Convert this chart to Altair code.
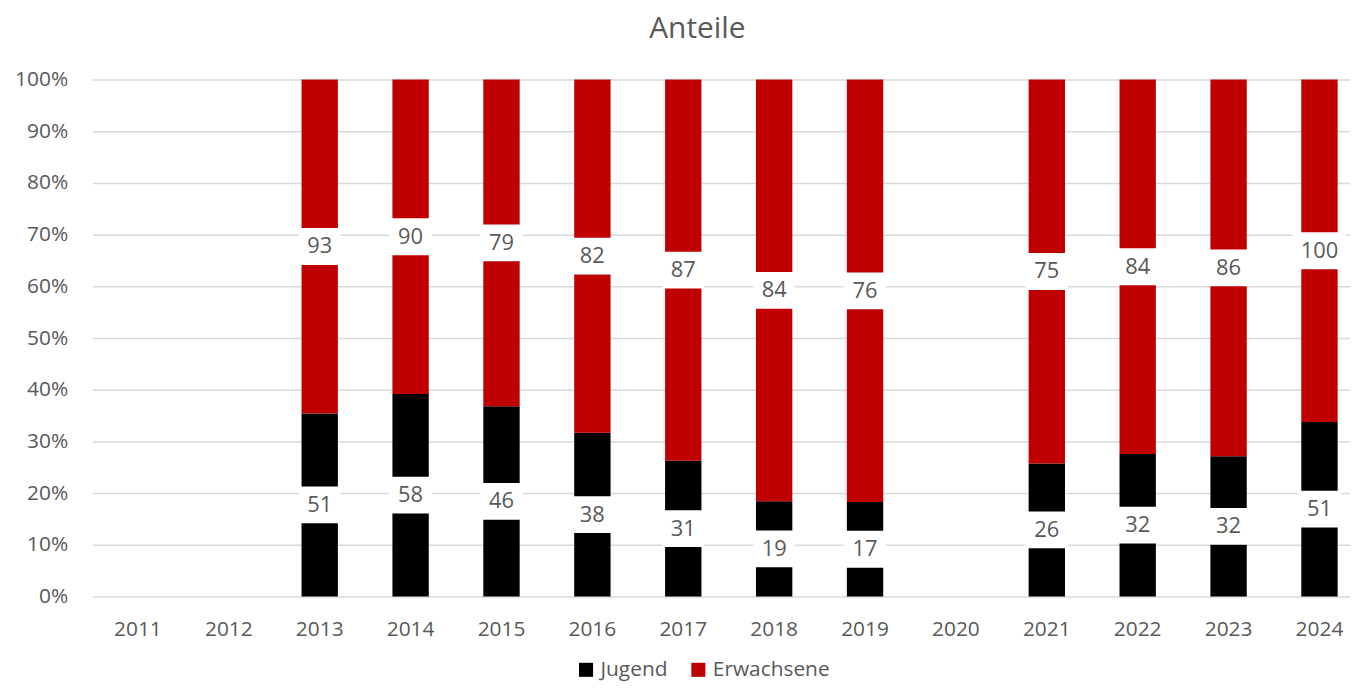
import altair as alt
import pandas as pd

years_all = ["2011", "2012", "2013", "2014", "2015", "2016", "2017",
             "2018", "2019", "2020", "2021", "2022", "2023", "2024"]
years = ["2013", "2014", "2015", "2016", "2017", "2018", "2019",
         "2021", "2022", "2023", "2024"]
jugend = [51, 58, 46, 38, 31, 19, 17, 26, 32, 32, 51]
erwachsene = [93, 90, 79, 82, 87, 84, 76, 75, 84, 86, 100]
groups = ["Jugend", "Erwachsene"]
colors = ["#000000", "#C00000"]

rows = []
for i, y in enumerate(years):
    rows.append({"year": y, "group": "Jugend", "value": jugend[i], "ord": 0})
    rows.append({"year": y, "group": "Erwachsene", "value": erwachsene[i], "ord": 1})
df = pd.DataFrame(rows)

FONT = "Open Sans"
GRAY = "#595959"

x = alt.X("year:N",
          scale=alt.Scale(domain=years_all, paddingInner=0.6, paddingOuter=0.3,
                          range=[0, 1280]),
          axis=alt.Axis(title=None, labelAngle=0, labelFontSize=21, labelColor=GRAY,
                        labelFont=FONT, ticks=False, domain=False, labelPadding=22,
                        grid=False))
yscale = alt.Scale(domain=[0, 1])
yaxis = alt.Axis(title=None, format=".0%",
                 values=[0, 0.1, 0.2, 0.3, 0.4, 0.5, 0.6, 0.7, 0.8, 0.9, 1.0],
                 labelFontSize=21, labelColor=GRAY, labelFont=FONT,
                 ticks=False, domain=False, labelPadding=25,
                 gridColor="#d9d9d9", gridWidth=1.5)

base = alt.Chart(df)

bars = base.mark_bar().encode(
    x=x,
    y=alt.Y("value:Q", stack="normalize", scale=yscale, axis=yaxis),
    color=alt.Color("group:N", scale=alt.Scale(domain=groups, range=colors),
                    legend=alt.Legend(title=None, orient="none", legendX=486, legendY=583,
                                      direction="horizontal", symbolType="square",
                                      symbolSize=200, symbolStrokeWidth=0,
                                      labelFontSize=21, labelFont=FONT, labelColor=GRAY,
                                      columnPadding=20, labelOffset=4)),
    order=alt.Order("ord:Q"),
)

lab = base.transform_stack(
    stack="value", groupby=["year"], as_=["v0", "v1"], offset="normalize",
    sort=[alt.SortField("ord", order="ascending")]
).transform_calculate(
    mid="(datum.v0 + datum.v1) / 2",
    w="length(toString(datum.value)) > 2 ? 'w3' : 'w2'"
)

path2 = "M-1.15,-1H1.15V1H-1.15Z"
path3 = "M-1.45,-1H1.45V1H-1.45Z"

boxes = lab.mark_point(filled=True, opacity=1, color="white", strokeWidth=0).encode(
    x=x,
    y=alt.Y("mid:Q", scale=yscale, axis=yaxis),
    shape=alt.Shape("w:N", scale=alt.Scale(domain=["w2", "w3"], range=[path2, path3]),
                    legend=None),
    size=alt.value(37 * 37),
)

texts = lab.mark_text(fontSize=22, font=FONT, color=GRAY, baseline="middle").encode(
    x=x,
    y=alt.Y("mid:Q", scale=yscale, axis=yaxis),
    text="value:Q",
)

chart = alt.layer(bars, boxes, texts).properties(
    width=1265, height=520,
    title=alt.TitleParams("Anteile", fontSize=30, font=FONT, color=GRAY,
                          fontWeight="normal", anchor="middle", offset=25, dx=-24),
    autosize=alt.AutoSizeParams(type="none"),
    padding={"left": 85, "top": 70, "right": 0, "bottom": 86},
).configure_view(stroke=None)

chart.save("out.html", embed_options={"renderer": "svg", "actions": False})
